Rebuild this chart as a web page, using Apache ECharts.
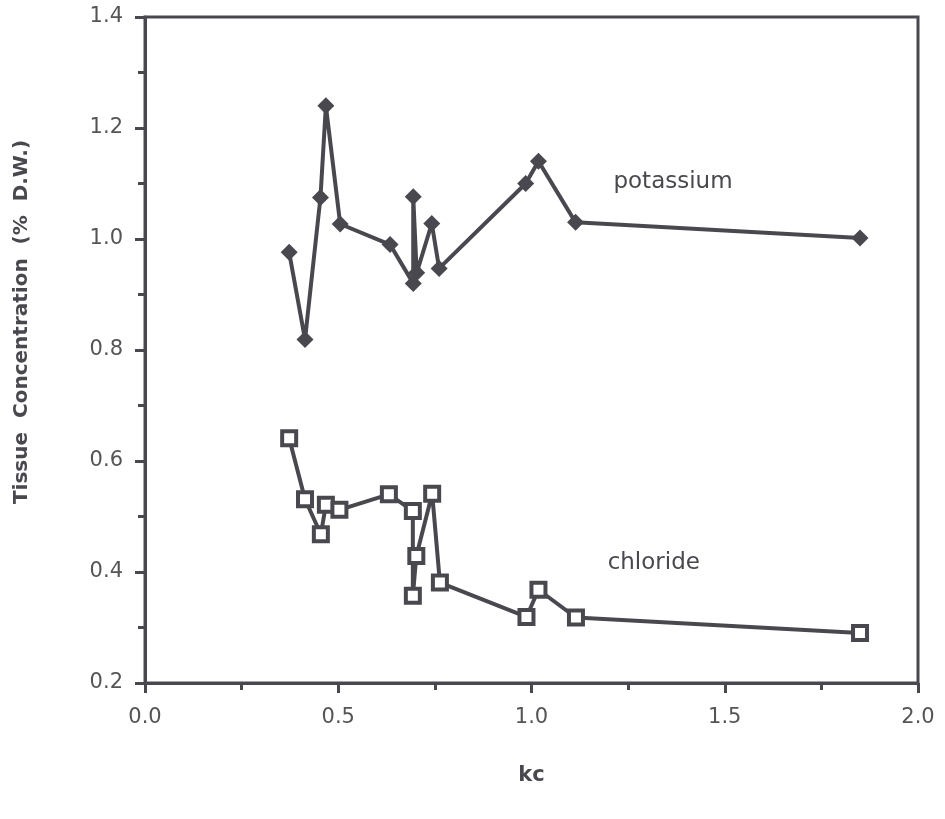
<!DOCTYPE html>
<html><head><meta charset="utf-8">
<script src="https://cdn.jsdelivr.net/npm/echarts@6/dist/echarts.min.js"></script>
<style>html,body{margin:0;padding:0;background:#fff}#c{width:945px;height:819px}</style>
</head><body><div id="c"></div>
<script>
var kcPotassium = [0.373, 0.414, 0.454, 0.468, 0.505, 0.634, 0.694, 0.694, 0.703, 0.742, 0.761, 0.985, 1.018, 1.114, 1.850];
var potassium   = [0.976, 0.819, 1.075, 1.240, 1.027, 0.990, 0.920, 1.076, 0.939, 1.028, 0.947, 1.100, 1.140, 1.030, 1.002];
var kcChloride  = [0.373, 0.414, 0.455, 0.468, 0.503, 0.631, 0.693, 0.693, 0.702, 0.743, 0.763, 0.987, 1.018, 1.115, 1.850];
var chloride    = [0.641, 0.531, 0.468, 0.521, 0.512, 0.540, 0.510, 0.357, 0.429, 0.541, 0.381, 0.319, 0.368, 0.318, 0.290];
var xTicks = [0, 0.5, 1.0, 1.5, 2.0];
var yTicks = [0.2, 0.4, 0.6, 0.8, 1.0, 1.2, 1.4];
var labels = [{text:'potassium', x:1.212, y:1.102, size:23}, {text:'chloride', x:1.197, y:0.417, size:23}];

var ink = '#4a484f';
var font = 'DejaVu Sans';
var chart = echarts.init(document.getElementById('c'));
function pair(xs, ys){ return xs.map(function(x,i){return [x, ys[i]];}); }
chart.setOption({
  animation:false,
  backgroundColor:'#fff',
  grid:{left:145, right:27, top:17, bottom:136, show:true, borderColor:ink, borderWidth:3, backgroundColor:'transparent'},
  xAxis:{type:'value', min:xTicks[0], max:xTicks[xTicks.length-1], interval:0.5,
    name:'kc', nameLocation:'middle', nameGap:82,
    nameTextStyle:{fontFamily:font, fontWeight:'bold', fontSize:21, color:ink},
    axisLine:{lineStyle:{color:ink, width:3}},
    axisTick:{inside:false, length:10, lineStyle:{color:ink, width:3}},
    minorTick:{show:true, splitNumber:2, length:7, lineStyle:{color:ink, width:3}},
    splitLine:{show:false},
    axisLabel:{margin:24, fontFamily:font, fontSize:21, color:'#555', formatter:function(v){return v.toFixed(1);}}
  },
  yAxis:{type:'value', min:yTicks[0], max:yTicks[yTicks.length-1], interval:0.2,
    axisLine:{lineStyle:{color:ink, width:3}},
    axisTick:{inside:false, length:10, lineStyle:{color:ink, width:3}},
    minorTick:{show:true, splitNumber:2, length:7, lineStyle:{color:ink, width:3}},
    splitLine:{show:false},
    axisLabel:{margin:22, fontFamily:font, fontSize:21, color:'#555', formatter:function(v){return v.toFixed(1);}}
  },
  series:[
    {type:'line', data:pair(kcPotassium, potassium), symbol:'diamond', symbolSize:17,
     lineStyle:{color:ink, width:4}, itemStyle:{color:ink}},
    {type:'line', data:pair(kcChloride, chloride), symbol:'rect', symbolSize:14,
     lineStyle:{color:ink, width:4}, itemStyle:{color:'#fff', borderColor:ink, borderWidth:4}}
  ]
});
var g = labels.map(function(l){
  var p = chart.convertToPixel({gridIndex:0}, [l.x, l.y]);
  return {type:'text', x:p[0], y:p[1], style:{text:l.text, fontFamily:font, fontSize:l.size, fill:ink, align:'left', verticalAlign:'middle'}};
});
g.push({type:'text', x:22, y:322, rotation:Math.PI/2,
  style:{text:'Tissue  Concentration  (%  D.W.)', fontFamily:font, fontWeight:'bold', fontSize:20, fill:ink, align:'center', verticalAlign:'middle'}});
chart.setOption({graphic:g});
</script></body></html>
